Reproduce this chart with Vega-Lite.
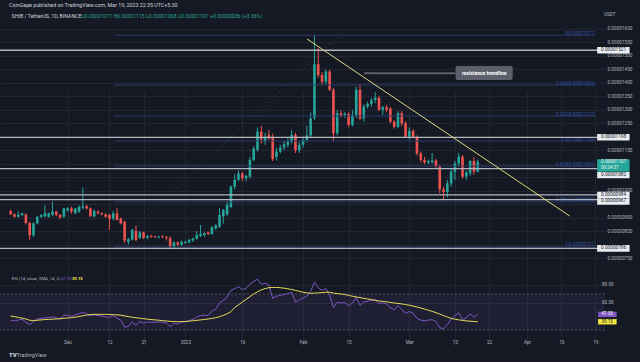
{
"$schema": "https://vega.github.io/schema/vega-lite/v6.json",
"width": 605, "height": 362,
"autosize": {"type": "none"},
"padding": {"left": 0, "top": 0, "right": 35, "bottom": 0},
"background": "#151924",
"config": {"view": {"stroke": null}, "font": "Roboto", "axis": {"labelOverlap": false, "labelFlush": false}},
"datasets": {
"bars": [
{"d":"2022-11-16","o":9.24e-6,"h":9.30e-6,"l":9.10e-6,"c":9.12e-6,"r":40.5,"s":45.5},
{"d":"2022-11-17","o":9.12e-6,"h":9.15e-6,"l":9.00e-6,"c":9.03e-6,"r":40.2,"s":44.8},
{"d":"2022-11-18","o":9.03e-6,"h":9.24e-6,"l":9.00e-6,"c":9.10e-6,"r":41,"s":44},
{"d":"2022-11-19","o":9.10e-6,"h":9.18e-6,"l":9.05e-6,"c":9.16e-6,"r":42,"s":43.2},
{"d":"2022-11-20","o":9.12e-6,"h":9.15e-6,"l":8.75e-6,"c":8.80e-6,"r":38.5,"s":42.2},
{"d":"2022-11-21","o":8.80e-6,"h":8.85e-6,"l":8.17e-6,"c":8.35e-6,"r":36,"s":40.8},
{"d":"2022-11-22","o":8.35e-6,"h":8.82e-6,"l":8.28e-6,"c":8.79e-6,"r":39.5,"s":40.5},
{"d":"2022-11-23","o":8.79e-6,"h":9.05e-6,"l":8.75e-6,"c":9.03e-6,"r":42,"s":40.8},
{"d":"2022-11-24","o":9.03e-6,"h":9.12e-6,"l":8.98e-6,"c":9.10e-6,"r":43,"s":41.2},
{"d":"2022-11-25","o":9.05e-6,"h":9.47e-6,"l":9.00e-6,"c":9.16e-6,"r":43.5,"s":41.6},
{"d":"2022-11-26","o":9.03e-6,"h":9.18e-6,"l":9.00e-6,"c":9.16e-6,"r":43.8,"s":41.8},
{"d":"2022-11-27","o":9.10e-6,"h":9.59e-6,"l":9.05e-6,"c":9.22e-6,"r":44.5,"s":42},
{"d":"2022-11-28","o":9.22e-6,"h":9.25e-6,"l":9.05e-6,"c":9.10e-6,"r":43.5,"s":42.3},
{"d":"2022-11-29","o":9.10e-6,"h":9.13e-6,"l":8.95e-6,"c":9.00e-6,"r":42.5,"s":42.5},
{"d":"2022-11-30","o":9.03e-6,"h":9.36e-6,"l":9.00e-6,"c":9.34e-6,"r":46.5,"s":43},
{"d":"2022-12-01","o":9.26e-6,"h":9.38e-6,"l":9.22e-6,"c":9.34e-6,"r":46.5,"s":43.4},
{"d":"2022-12-02","o":9.34e-6,"h":9.40e-6,"l":9.15e-6,"c":9.22e-6,"r":45,"s":43.7},
{"d":"2022-12-03","o":9.16e-6,"h":9.36e-6,"l":9.12e-6,"c":9.34e-6,"r":47,"s":44.3},
{"d":"2022-12-04","o":9.22e-6,"h":9.45e-6,"l":9.18e-6,"c":9.40e-6,"r":48,"s":45},
{"d":"2022-12-05","o":9.36e-6,"h":1.012e-5,"l":9.30e-6,"c":9.42e-6,"r":49.5,"s":45.8},
{"d":"2022-12-06","o":9.42e-6,"h":9.48e-6,"l":9.30e-6,"c":9.34e-6,"r":48,"s":46.5},
{"d":"2022-12-07","o":9.34e-6,"h":9.38e-6,"l":9.02e-6,"c":9.05e-6,"r":46,"s":47.2},
{"d":"2022-12-08","o":9.05e-6,"h":9.30e-6,"l":9.00e-6,"c":9.24e-6,"r":47,"s":47.4},
{"d":"2022-12-09","o":9.22e-6,"h":9.28e-6,"l":9.12e-6,"c":9.16e-6,"r":46,"s":47.4},
{"d":"2022-12-10","o":9.16e-6,"h":9.20e-6,"l":9.08e-6,"c":9.12e-6,"r":45.5,"s":47.4},
{"d":"2022-12-11","o":9.12e-6,"h":9.16e-6,"l":9.00e-6,"c":9.03e-6,"r":44.5,"s":47.4},
{"d":"2022-12-12","o":9.10e-6,"h":9.15e-6,"l":8.54e-6,"c":8.95e-6,"r":44,"s":47.2},
{"d":"2022-12-13","o":8.97e-6,"h":9.25e-6,"l":8.90e-6,"c":9.16e-6,"r":46,"s":47},
{"d":"2022-12-14","o":9.16e-6,"h":9.35e-6,"l":8.90e-6,"c":8.91e-6,"r":43,"s":46.8},
{"d":"2022-12-15","o":8.97e-6,"h":9.00e-6,"l":8.75e-6,"c":8.79e-6,"r":41,"s":46.5},
{"d":"2022-12-16","o":8.85e-6,"h":8.88e-6,"l":8.05e-6,"c":8.15e-6,"r":33,"s":45.6},
{"d":"2022-12-17","o":8.10e-6,"h":8.25e-6,"l":8.00e-6,"c":8.20e-6,"r":34,"s":44.9},
{"d":"2022-12-18","o":8.18e-6,"h":8.58e-6,"l":8.15e-6,"c":8.54e-6,"r":39,"s":44.2},
{"d":"2022-12-19","o":8.51e-6,"h":8.70e-6,"l":8.12e-6,"c":8.17e-6,"r":35,"s":43.6},
{"d":"2022-12-20","o":8.25e-6,"h":8.50e-6,"l":8.20e-6,"c":8.45e-6,"r":39.5,"s":43.1},
{"d":"2022-12-21","o":8.45e-6,"h":8.48e-6,"l":8.20e-6,"c":8.25e-6,"r":37.5,"s":42.6},
{"d":"2022-12-22","o":8.25e-6,"h":8.35e-6,"l":8.20e-6,"c":8.32e-6,"r":39,"s":42},
{"d":"2022-12-23","o":8.32e-6,"h":8.36e-6,"l":8.25e-6,"c":8.29e-6,"r":38.5,"s":41.6},
{"d":"2022-12-24","o":8.30e-6,"h":8.33e-6,"l":8.25e-6,"c":8.27e-6,"r":38.5,"s":41.2},
{"d":"2022-12-25","o":8.27e-6,"h":8.32e-6,"l":8.22e-6,"c":8.30e-6,"r":39,"s":40.9},
{"d":"2022-12-26","o":8.30e-6,"h":8.35e-6,"l":8.25e-6,"c":8.27e-6,"r":38.5,"s":40.4},
{"d":"2022-12-27","o":8.27e-6,"h":8.32e-6,"l":8.15e-6,"c":8.24e-6,"r":38,"s":40},
{"d":"2022-12-28","o":8.24e-6,"h":8.30e-6,"l":7.82e-6,"c":7.92e-6,"r":33.5,"s":39.6},
{"d":"2022-12-29","o":7.92e-6,"h":8.12e-6,"l":7.86e-6,"c":8.08e-6,"r":37.5,"s":39.4},
{"d":"2022-12-30","o":8.08e-6,"h":8.12e-6,"l":7.95e-6,"c":8.00e-6,"r":36.5,"s":39.3},
{"d":"2022-12-31","o":8.00e-6,"h":8.15e-6,"l":7.96e-6,"c":8.10e-6,"r":39,"s":39.3},
{"d":"2023-01-01","o":8.06e-6,"h":8.14e-6,"l":8.02e-6,"c":8.10e-6,"r":39,"s":39.5},
{"d":"2023-01-02","o":8.08e-6,"h":8.20e-6,"l":8.05e-6,"c":8.18e-6,"r":40.5,"s":39.8},
{"d":"2023-01-03","o":8.15e-6,"h":8.25e-6,"l":8.10e-6,"c":8.22e-6,"r":41.5,"s":40.2},
{"d":"2023-01-04","o":8.22e-6,"h":8.50e-6,"l":8.18e-6,"c":8.35e-6,"r":44.5,"s":40.7},
{"d":"2023-01-05","o":8.32e-6,"h":8.72e-6,"l":8.28e-6,"c":8.40e-6,"r":46,"s":41.2},
{"d":"2023-01-06","o":8.35e-6,"h":8.45e-6,"l":8.28e-6,"c":8.42e-6,"r":46.5,"s":41.7},
{"d":"2023-01-07","o":8.45e-6,"h":8.48e-6,"l":8.35e-6,"c":8.39e-6,"r":46,"s":42.2},
{"d":"2023-01-08","o":8.39e-6,"h":8.68e-6,"l":8.36e-6,"c":8.64e-6,"r":51,"s":42.9},
{"d":"2023-01-09","o":8.60e-6,"h":8.75e-6,"l":8.55e-6,"c":8.72e-6,"r":53,"s":43.6},
{"d":"2023-01-10","o":8.66e-6,"h":9.35e-6,"l":8.62e-6,"c":9.10e-6,"r":60,"s":44.8},
{"d":"2023-01-11","o":9.05e-6,"h":9.32e-6,"l":8.78e-6,"c":9.28e-6,"r":63,"s":46.3},
{"d":"2023-01-12","o":9.12e-6,"h":9.60e-6,"l":9.05e-6,"c":9.47e-6,"r":66,"s":48},
{"d":"2023-01-13","o":9.40e-6,"h":1.02e-5,"l":9.35e-6,"c":1.015e-5,"r":74,"s":50.4},
{"d":"2023-01-14","o":1.015e-5,"h":1.06e-5,"l":1.005e-5,"c":1.04e-5,"r":76,"s":55},
{"d":"2023-01-15","o":1.04e-5,"h":1.075e-5,"l":1.035e-5,"c":1.064e-5,"r":78,"s":58},
{"d":"2023-01-16","o":1.064e-5,"h":1.07e-5,"l":1.035e-5,"c":1.046e-5,"r":75,"s":61},
{"d":"2023-01-17","o":1.046e-5,"h":1.06e-5,"l":1.035e-5,"c":1.055e-5,"r":76,"s":64},
{"d":"2023-01-18","o":1.052e-5,"h":1.125e-5,"l":1.045e-5,"c":1.114e-5,"r":81,"s":67},
{"d":"2023-01-19","o":1.114e-5,"h":1.165e-5,"l":1.108e-5,"c":1.157e-5,"r":84,"s":70},
{"d":"2023-01-20","o":1.151e-5,"h":1.235e-5,"l":1.145e-5,"c":1.219e-5,"r":86.5,"s":72.5},
{"d":"2023-01-21","o":1.219e-5,"h":1.24e-5,"l":1.175e-5,"c":1.19e-5,"r":81,"s":74.5},
{"d":"2023-01-22","o":1.184e-5,"h":1.215e-5,"l":1.17e-5,"c":1.2e-5,"r":82,"s":76},
{"d":"2023-01-23","o":1.207e-5,"h":1.225e-5,"l":1.19e-5,"c":1.194e-5,"r":80,"s":77},
{"d":"2023-01-24","o":1.2e-5,"h":1.212e-5,"l":1.11e-5,"c":1.117e-5,"r":65,"s":77.2},
{"d":"2023-01-25","o":1.125e-5,"h":1.16e-5,"l":1.112e-5,"c":1.145e-5,"r":67.5,"s":77.3},
{"d":"2023-01-26","o":1.145e-5,"h":1.17e-5,"l":1.138e-5,"c":1.16e-5,"r":68.5,"s":77},
{"d":"2023-01-27","o":1.16e-5,"h":1.185e-5,"l":1.15e-5,"c":1.172e-5,"r":69.5,"s":76.5},
{"d":"2023-01-28","o":1.17e-5,"h":1.195e-5,"l":1.16e-5,"c":1.184e-5,"r":70.5,"s":75.8},
{"d":"2023-01-29","o":1.182e-5,"h":1.225e-5,"l":1.175e-5,"c":1.207e-5,"r":72,"s":75},
{"d":"2023-01-30","o":1.207e-5,"h":1.215e-5,"l":1.14e-5,"c":1.15e-5,"r":61,"s":74},
{"d":"2023-01-31","o":1.15e-5,"h":1.18e-5,"l":1.14e-5,"c":1.17e-5,"r":63.5,"s":73},
{"d":"2023-02-01","o":1.17e-5,"h":1.2e-5,"l":1.16e-5,"c":1.188e-5,"r":65.5,"s":72},
{"d":"2023-02-02","o":1.188e-5,"h":1.24e-5,"l":1.18e-5,"c":1.205e-5,"r":67.5,"s":71.2},
{"d":"2023-02-03","o":1.205e-5,"h":1.29e-5,"l":1.195e-5,"c":1.268e-5,"r":73,"s":70.8},
{"d":"2023-02-04","o":1.27e-5,"h":1.577e-5,"l":1.262e-5,"c":1.469e-5,"r":83,"s":71},
{"d":"2023-02-05","o":1.469e-5,"h":1.53e-5,"l":1.42e-5,"c":1.429e-5,"r":77,"s":71.3},
{"d":"2023-02-06","o":1.429e-5,"h":1.44e-5,"l":1.395e-5,"c":1.404e-5,"r":74,"s":71.5},
{"d":"2023-02-07","o":1.404e-5,"h":1.45e-5,"l":1.395e-5,"c":1.442e-5,"r":76,"s":72},
{"d":"2023-02-08","o":1.442e-5,"h":1.448e-5,"l":1.37e-5,"c":1.374e-5,"r":69,"s":72},
{"d":"2023-02-09","o":1.374e-5,"h":1.382e-5,"l":1.185e-5,"c":1.213e-5,"r":55,"s":71},
{"d":"2023-02-10","o":1.213e-5,"h":1.3e-5,"l":1.205e-5,"c":1.287e-5,"r":61,"s":70.5},
{"d":"2023-02-11","o":1.287e-5,"h":1.298e-5,"l":1.272e-5,"c":1.28e-5,"r":60,"s":70},
{"d":"2023-02-12","o":1.28e-5,"h":1.292e-5,"l":1.27e-5,"c":1.285e-5,"r":60.5,"s":69.5},
{"d":"2023-02-13","o":1.285e-5,"h":1.29e-5,"l":1.235e-5,"c":1.244e-5,"r":57,"s":68.5},
{"d":"2023-02-14","o":1.244e-5,"h":1.3e-5,"l":1.238e-5,"c":1.28e-5,"r":60,"s":67.5},
{"d":"2023-02-15","o":1.28e-5,"h":1.385e-5,"l":1.27e-5,"c":1.374e-5,"r":66,"s":66.8},
{"d":"2023-02-16","o":1.374e-5,"h":1.395e-5,"l":1.262e-5,"c":1.268e-5,"r":57.5,"s":66},
{"d":"2023-02-17","o":1.268e-5,"h":1.32e-5,"l":1.255e-5,"c":1.312e-5,"r":61,"s":65.2},
{"d":"2023-02-18","o":1.312e-5,"h":1.33e-5,"l":1.305e-5,"c":1.322e-5,"r":62,"s":64.5},
{"d":"2023-02-19","o":1.322e-5,"h":1.345e-5,"l":1.31e-5,"c":1.336e-5,"r":63,"s":63.8},
{"d":"2023-02-20","o":1.336e-5,"h":1.365e-5,"l":1.325e-5,"c":1.345e-5,"r":63.5,"s":63},
{"d":"2023-02-21","o":1.345e-5,"h":1.35e-5,"l":1.295e-5,"c":1.3e-5,"r":59.5,"s":62.3},
{"d":"2023-02-22","o":1.3e-5,"h":1.315e-5,"l":1.28e-5,"c":1.31e-5,"r":60,"s":61.8},
{"d":"2023-02-23","o":1.31e-5,"h":1.318e-5,"l":1.29e-5,"c":1.3e-5,"r":59,"s":61.3},
{"d":"2023-02-24","o":1.305e-5,"h":1.31e-5,"l":1.25e-5,"c":1.256e-5,"r":54.5,"s":60.7},
{"d":"2023-02-25","o":1.256e-5,"h":1.262e-5,"l":1.23e-5,"c":1.237e-5,"r":52.5,"s":60},
{"d":"2023-02-26","o":1.237e-5,"h":1.295e-5,"l":1.232e-5,"c":1.287e-5,"r":57,"s":59.5},
{"d":"2023-02-27","o":1.287e-5,"h":1.295e-5,"l":1.24e-5,"c":1.25e-5,"r":53,"s":59},
{"d":"2023-02-28","o":1.25e-5,"h":1.258e-5,"l":1.195e-5,"c":1.2e-5,"r":48.5,"s":58.3},
{"d":"2023-03-01","o":1.2e-5,"h":1.235e-5,"l":1.19e-5,"c":1.222e-5,"r":50.5,"s":57.5},
{"d":"2023-03-02","o":1.222e-5,"h":1.228e-5,"l":1.195e-5,"c":1.2e-5,"r":48.5,"s":56.6},
{"d":"2023-03-03","o":1.2e-5,"h":1.205e-5,"l":1.13e-5,"c":1.138e-5,"r":43,"s":55.6},
{"d":"2023-03-04","o":1.138e-5,"h":1.145e-5,"l":1.105e-5,"c":1.114e-5,"r":41,"s":54.4},
{"d":"2023-03-05","o":1.114e-5,"h":1.125e-5,"l":1.098e-5,"c":1.104e-5,"r":40,"s":53.2},
{"d":"2023-03-06","o":1.104e-5,"h":1.115e-5,"l":1.098e-5,"c":1.11e-5,"r":41,"s":52},
{"d":"2023-03-07","o":1.106e-5,"h":1.14e-5,"l":1.1e-5,"c":1.112e-5,"r":41.5,"s":50.7},
{"d":"2023-03-08","o":1.112e-5,"h":1.118e-5,"l":1.085e-5,"c":1.089e-5,"r":39.5,"s":49.3},
{"d":"2023-03-09","o":1.089e-5,"h":1.095e-5,"l":9.9e-6,"c":1.005e-5,"r":32.5,"s":47.7},
{"d":"2023-03-10","o":1.005e-5,"h":1.015e-5,"l":9.67e-6,"c":9.95e-6,"r":31.5,"s":46},
{"d":"2023-03-11","o":9.95e-6,"h":1.04e-5,"l":9.75e-6,"c":1.027e-5,"r":36,"s":44.4},
{"d":"2023-03-12","o":1.027e-5,"h":1.08e-5,"l":1.015e-5,"c":1.07e-5,"r":42,"s":43},
{"d":"2023-03-13","o":1.07e-5,"h":1.11e-5,"l":1.04e-5,"c":1.101e-5,"r":46,"s":42},
{"d":"2023-03-14","o":1.101e-5,"h":1.14e-5,"l":1.09e-5,"c":1.126e-5,"r":49,"s":41.3},
{"d":"2023-03-15","o":1.126e-5,"h":1.132e-5,"l":1.045e-5,"c":1.052e-5,"r":41.5,"s":40.6},
{"d":"2023-03-16","o":1.052e-5,"h":1.075e-5,"l":1.04e-5,"c":1.068e-5,"r":43.5,"s":40.1},
{"d":"2023-03-17","o":1.064e-5,"h":1.115e-5,"l":1.055e-5,"c":1.11e-5,"r":48,"s":39.8},
{"d":"2023-03-18","o":1.11e-5,"h":1.125e-5,"l":1.06e-5,"c":1.071e-5,"r":44,"s":39.4},
{"d":"2023-03-19","o":1.071e-5,"h":1.115e-5,"l":1.068e-5,"c":1.107e-5,"r":47.35,"s":39.15}
],
"levels": [{"p":1.521e-5},{"p":1.198e-5},{"p":1.082e-5},{"p":9.84e-6},{"p":9.67e-6},{"p":7.86e-6}],
"fib": [
{"p":1.577e-5,"t":"0(0.00001577)"},
{"p":1.392e-5,"t":"0.236(0.00001392)"},
{"p":1.277e-5,"t":"0.382(0.00001277)"},
{"p":1.184e-5,"t":"0.5(0.00001184)"},
{"p":1.091e-5,"t":"0.618(0.00001091)"},
{"p":9.58e-6,"t":"0.786(0.00000958)"},
{"p":7.91e-6,"t":"1(0.00000791)"}
],
"fibdiag": [
{"d":"2022-12-13T08:00:00Z","p":7.91e-6},
{"d":"2023-02-10T14:00:00Z","p":1.577e-5}
],
"tags": [
{"p":1.521e-5,"t":"0.00001521"},
{"p":1.198e-5,"t":"0.00001198"},
{"p":1.082e-5,"t":"0.00001082"},
{"p":9.84e-6,"t":"0.00000984"},
{"p":9.67e-6,"t":"0.00000967"},
{"p":7.86e-6,"t":"0.00000786"}
],
"last": [{"p":1.107e-5,"t":"0.00001107","cd":"06:24:37"}],
"trend": [
{"d":"2023-02-02T01:00:00Z","p":1.563e-5},
{"d":"2023-04-12T05:00:00Z","p":9.06e-6}
],
"rsitags": [{"v":47.35,"t":"47.35","k":"RSI"},{"v":39.15,"t":"39.15","k":"SMA"}],
"rsiticks": [{"v":80,"t":"80.00"},{"v":60,"t":"60.00"}]
},
"layer": [
{
"layer": [
{
"data": {"name": "bars"},
"mark": {"type": "rule", "strokeWidth": 1},
"encoding": {
"x": {"field": "d", "type": "temporal",
"scale": {"type": "utc", "domain": [{"year":2022,"month":11,"date":14,"hours":12,"utc":true},{"year":2023,"month":4,"date":20,"hours":5,"utc":true}]},
"axis": {"orient": "bottom", "offset": -23.5, "title": null, "domain": false, "ticks": false, "tickSize": 0, "labelPadding": 1, "tickCount": 40,
"grid": true, "gridColor": "#222633", "gridWidth": 1, "labelColor": "#b2b5be", "labelFontSize": 4.6, "labelFont": "Roboto", "labelOverlap": false,
"values": [{"year":2022,"month":12,"date":1,"utc":true},{"year":2022,"month":12,"date":12,"utc":true},{"year":2022,"month":12,"date":21,"utc":true},{"year":2023,"month":1,"date":1,"utc":true},{"year":2023,"month":1,"date":16,"utc":true},{"year":2023,"month":2,"date":1,"utc":true},{"year":2023,"month":2,"date":13,"utc":true},{"year":2023,"month":3,"date":1,"utc":true},{"year":2023,"month":3,"date":13,"utc":true},{"year":2023,"month":3,"date":22,"utc":true},{"year":2023,"month":4,"date":1,"utc":true},{"year":2023,"month":4,"date":10,"utc":true},{"year":2023,"month":4,"date":19,"utc":true}],
"labelExpr": "utcdate(datum.value) == 1 ? (utcmonth(datum.value) == 0 ? utcFormat(datum.value, '%Y') : utcFormat(datum.value, '%b')) : utcFormat(datum.value, '%-d')"}},
"y": {"field": "l", "type": "quantitative",
"scale": {"domain": [7e-6, 1.65e-5], "range": [271.5, 15.5], "zero": false, "nice": false},
"axis": {"orient": "right", "title": null, "domain": false, "ticks": false, "tickSize": 0, "labelPadding": 2, "tickCount": 40,
"grid": true, "gridColor": "#222633", "labelColor": "#b2b5be", "labelFontSize": 4.7, "labelFont": "Roboto", "labelOverlap": false, "labelBound": false,
"values": [7.5e-6, 8e-6, 8.5e-6, 9e-6, 9.5e-6, 1e-5, 1.05e-5, 1.1e-5, 1.15e-5, 1.2e-5, 1.25e-5, 1.3e-5, 1.35e-5, 1.4e-5, 1.45e-5, 1.5e-5, 1.55e-5, 1.6e-5],
"labelExpr": "indexof([800, 950, 1050, 1100, 1200], round(datum.value * 1e8)) >= 0 ? '' : format(datum.value, '.8f')"}},
"y2": {"field": "h"},
"color": {"condition": {"test": "datum.c >= datum.o", "value": "#26a69a"}, "value": "#ef5350"}
}
},
{
"data": {"name": "bars"},
"mark": {"type": "bar", "size": 2.6},
"encoding": {
"x": {"field": "d", "type": "temporal", "axis": {"title": null}},
"y": {"field": "o", "type": "quantitative", "axis": {"title": null}},
"y2": {"field": "c"},
"color": {"condition": {"test": "datum.c >= datum.o", "value": "#26a69a"}, "value": "#ef5350"}
}
},
{
"data": {"name": "fibdiag"},
"mark": {"type": "line", "color": "#4a5272", "strokeWidth": 0.8, "strokeDash": [2, 3], "opacity": 0.55},
"encoding": {
"x": {"field": "d", "type": "temporal", "axis": {"title": null}},
"y": {"field": "p", "type": "quantitative", "axis": {"title": null}}
}
},
{
"data": {"name": "fib"},
"mark": {"type": "rule", "color": "#2b3a6c", "strokeWidth": 1},
"encoding": {
"x": {"datum": {"year":2022,"month":12,"date":13,"hours":8,"utc":true}, "type": "temporal", "axis": {"title": null}},
"x2": {"datum": {"year":2023,"month":4,"date":18,"hours":22,"utc":true}},
"y": {"field": "p", "type": "quantitative", "axis": {"title": null}}
}
},
{
"data": {"name": "fib"},
"mark": {"type": "text", "align": "right", "baseline": "bottom", "dy": 0.5, "fontSize": 4.6, "color": "#34509e"},
"encoding": {
"x": {"datum": {"year":2023,"month":4,"date":18,"hours":22,"utc":true}, "type": "temporal", "axis": {"title": null}},
"y": {"field": "p", "type": "quantitative", "axis": {"title": null}},
"text": {"field": "t"}
}
},
{
"data": {"name": "levels"},
"mark": {"type": "rule", "color": "#b4b7c0", "strokeWidth": 1.3},
"encoding": {
"y": {"field": "p", "type": "quantitative", "axis": {"title": null}}
}
},
{
"data": {"name": "trend"},
"mark": {"type": "line", "color": "#e2d97a", "strokeWidth": 1},
"encoding": {
"x": {"field": "d", "type": "temporal", "axis": {"title": null}},
"y": {"field": "p", "type": "quantitative", "axis": {"title": null}}
}
},
{
"data": {"values": [{}]},
"mark": {"type": "rule", "color": "#5d606b", "strokeWidth": 2},
"encoding": {
"x": {"datum": {"year":2023,"month":2,"date":17,"hours":1,"utc":true}, "type": "temporal", "axis": {"title": null}},
"x2": {"datum": {"year":2023,"month":3,"date":13,"hours":4,"utc":true}},
"y": {"datum": 1.436e-5, "type": "quantitative", "axis": {"title": null}}
}
},
{
"data": {"values": [{}]},
"mark": {"type": "rect", "color": "#5d606b", "cornerRadius": 2},
"encoding": {
"x": {"datum": {"year":2023,"month":3,"date":13,"hours":4,"utc":true}, "type": "temporal", "axis": {"title": null}},
"x2": {"datum": {"year":2023,"month":3,"date":28,"hours":5,"utc":true}},
"y": {"datum": 1.4627e-5, "type": "quantitative", "axis": {"title": null}},
"y2": {"datum": 1.4107e-5}
}
},
{
"data": {"values": [{}]},
"mark": {"type": "text", "align": "center", "baseline": "middle", "fontSize": 5, "fontWeight": "bold", "color": "#ffffff"},
"encoding": {
"x": {"datum": {"year":2023,"month":3,"date":20,"hours":17,"utc":true}, "type": "temporal", "axis": {"title": null}},
"y": {"datum": 1.437e-5, "type": "quantitative", "axis": {"title": null}},
"text": {"value": "resistance trendline"}
}
},
{
"data": {"name": "tags"},
"transform": [{"filter": "datum.t != '0.00001082' && datum.t != '0.00000967'"}],
"mark": {"type": "rect", "color": "#e9ebf0", "yOffset": -3.3, "y2Offset": 3.3},
"encoding": {
"x": {"datum": {"year":2023,"month":4,"date":19,"hours":11,"utc":true}, "type": "temporal", "axis": {"title": null}},
"x2": {"datum": {"year":2023,"month":4,"date":28,"utc":true}},
"y": {"field": "p", "type": "quantitative", "axis": {"title": null}},
"y2": {"field": "p"}
}
},
{
"data": {"name": "tags"},
"transform": [{"filter": "datum.t != '0.00001082' && datum.t != '0.00000967'"}],
"mark": {"type": "text", "align": "left", "baseline": "middle", "fontSize": 4.7, "color": "#131722"},
"encoding": {
"x": {"datum": {"year":2023,"month":4,"date":20,"hours":12,"utc":true}, "type": "temporal", "axis": {"title": null}},
"y": {"field": "p", "type": "quantitative", "axis": {"title": null}},
"text": {"field": "t"}
}
},
{
"data": {"name": "tags"},
"transform": [{"filter": "datum.t == '0.00000967'"}],
"mark": {"type": "rect", "color": "#e9ebf0", "yOffset": -1.4, "y2Offset": 5.2},
"encoding": {
"x": {"datum": {"year":2023,"month":4,"date":19,"hours":11,"utc":true}, "type": "temporal", "axis": {"title": null}},
"x2": {"datum": {"year":2023,"month":4,"date":28,"utc":true}},
"y": {"field": "p", "type": "quantitative", "axis": {"title": null}},
"y2": {"field": "p"}
}
},
{
"data": {"name": "tags"},
"transform": [{"filter": "datum.t == '0.00000967'"}],
"mark": {"type": "text", "align": "left", "baseline": "middle", "dy": 1.9, "fontSize": 4.7, "color": "#131722"},
"encoding": {
"x": {"datum": {"year":2023,"month":4,"date":20,"hours":12,"utc":true}, "type": "temporal", "axis": {"title": null}},
"y": {"field": "p", "type": "quantitative", "axis": {"title": null}},
"text": {"field": "t"}
}
},
{
"data": {"name": "tags"},
"transform": [{"filter": "datum.t == '0.00001082'"}],
"mark": {"type": "rect", "color": "#e9ebf0", "yOffset": 3.4, "y2Offset": 9.6},
"encoding": {
"x": {"datum": {"year":2023,"month":4,"date":19,"hours":11,"utc":true}, "type": "temporal", "axis": {"title": null}},
"x2": {"datum": {"year":2023,"month":4,"date":28,"utc":true}},
"y": {"field": "p", "type": "quantitative", "axis": {"title": null}},
"y2": {"field": "p"}
}
},
{
"data": {"name": "tags"},
"transform": [{"filter": "datum.t == '0.00001082'"}],
"mark": {"type": "text", "align": "left", "baseline": "middle", "dy": 6.5, "fontSize": 4.7, "color": "#131722"},
"encoding": {
"x": {"datum": {"year":2023,"month":4,"date":20,"hours":12,"utc":true}, "type": "temporal", "axis": {"title": null}},
"y": {"field": "p", "type": "quantitative", "axis": {"title": null}},
"text": {"field": "t"}
}
},
{
"data": {"name": "last"},
"mark": {"type": "rect", "color": "#26a69a", "yOffset": -2.5, "y2Offset": 10},
"encoding": {
"x": {"datum": {"year":2023,"month":4,"date":19,"hours":11,"utc":true}, "type": "temporal", "axis": {"title": null}},
"x2": {"datum": {"year":2023,"month":4,"date":28,"utc":true}},
"y": {"field": "p", "type": "quantitative", "axis": {"title": null}},
"y2": {"field": "p"}
}
},
{
"data": {"name": "last"},
"mark": {"type": "text", "align": "left", "baseline": "middle", "dy": 0.6, "fontSize": 4.7, "color": "#ffffff"},
"encoding": {
"x": {"datum": {"year":2023,"month":4,"date":20,"hours":12,"utc":true}, "type": "temporal", "axis": {"title": null}},
"y": {"field": "p", "type": "quantitative", "axis": {"title": null}},
"text": {"field": "t"}
}
},
{
"data": {"name": "last"},
"mark": {"type": "text", "align": "left", "baseline": "middle", "dy": 6.2, "fontSize": 4.5, "color": "#e6f5f3"},
"encoding": {
"x": {"datum": {"year":2023,"month":4,"date":20,"hours":12,"utc":true}, "type": "temporal", "axis": {"title": null}},
"y": {"field": "p", "type": "quantitative", "axis": {"title": null}},
"text": {"field": "cd"}
}
},
{
"data": {"values": [{}]},
"mark": {"type": "text", "align": "left", "baseline": "middle", "fontSize": 5.3, "color": "#d1d4dc"},
"encoding": {
"x": {"datum": {"year":2022,"month":11,"date":15,"hours":13,"utc":true}, "type": "temporal", "axis": {"title": null}},
"y": {"datum": 1.689e-5, "type": "quantitative", "axis": {"title": null}},
"text": {"value": "CoinGape published on TradingView.com, Mar 19, 2023 22:35 UTC+5:30"}
}
},
{
"data": {"values": [{}]},
"mark": {"type": "text", "align": "left", "baseline": "middle", "fontSize": 5.2, "color": "#d1d4dc"},
"encoding": {
"x": {"datum": {"year":2022,"month":11,"date":16,"hours":7,"utc":true}, "type": "temporal", "axis": {"title": null}},
"y": {"datum": 1.648e-5, "type": "quantitative", "axis": {"title": null}},
"text": {"value": "SHIB / TetherUS, 1D, BINANCE"}
}
},
{
"data": {"values": [{}]},
"mark": {"type": "text", "align": "left", "baseline": "middle", "fontSize": 5.2, "color": "#26a69a"},
"encoding": {
"x": {"datum": {"year":2022,"month":12,"date":4,"hours":12,"utc":true}, "type": "temporal", "axis": {"title": null}},
"y": {"datum": 1.648e-5, "type": "quantitative", "axis": {"title": null}},
"text": {"value": "O0.00001071 H0.00001115 L0.00001068 C0.00001107 +0.00000036 (+3.36%)"}
}
},
{
"data": {"values": [{}]},
"mark": {"type": "text", "align": "left", "baseline": "middle", "fontSize": 4.7, "color": "#b2b5be"},
"encoding": {
"x": {"datum": {"year":2023,"month":4,"date":21,"hours":6,"utc":true}, "type": "temporal", "axis": {"title": null}},
"y": {"datum": 1.652e-5, "type": "quantitative", "axis": {"title": null}},
"text": {"value": "USDT"}
}
}
]
},
{
"layer": [
{
"data": {"values": [{"lo": 30, "hi": 70}]},
"mark": {"type": "rect", "color": "#7e57c2", "opacity": 0.1},
"encoding": {
"y": {"field": "lo", "type": "quantitative", "scale": {"domain": [20, 90], "range": [339, 276], "zero": false, "nice": false},
"axis": {"orient": "right", "title": null, "domain": false, "ticks": false, "tickSize": 0, "labels": false, "grid": true, "gridColor": "#222633", "tickCount": 40, "values": [60, 80]}},
"y2": {"field": "hi"}
}
},
{
"data": {"values": [{"v": 70}, {"v": 30}]},
"mark": {"type": "rule", "color": "#787b86", "strokeDash": [2, 2], "strokeWidth": 0.8, "opacity": 0.7},
"encoding": {
"y": {"field": "v", "type": "quantitative", "axis": {"title": null}}
}
},
{
"data": {"name": "bars"},
"mark": {"type": "line", "color": "#7e57c2", "strokeWidth": 1},
"encoding": {
"x": {"field": "d", "type": "temporal", "axis": {"title": null}},
"y": {"field": "r", "type": "quantitative", "axis": {"title": null}}
}
},
{
"data": {"name": "bars"},
"mark": {"type": "line", "color": "#e8dc5a", "strokeWidth": 1},
"encoding": {
"x": {"field": "d", "type": "temporal", "axis": {"title": null}},
"y": {"field": "s", "type": "quantitative", "axis": {"title": null}}
}
},
{
"data": {"name": "rsiticks"},
"mark": {"type": "text", "align": "left", "baseline": "middle", "fontSize": 4.7, "color": "#b2b5be"},
"encoding": {
"x": {"datum": {"year":2023,"month":4,"date":20,"hours":17,"minutes":26,"utc":true}, "type": "temporal", "axis": {"title": null}},
"y": {"field": "v", "type": "quantitative", "axis": {"title": null}},
"text": {"field": "t"}
}
},
{
"data": {"name": "rsitags"},
"mark": {"type": "rect", "yOffset": -2.7, "y2Offset": 2.7},
"encoding": {
"x": {"datum": {"year":2023,"month":4,"date":19,"hours":17,"utc":true}, "type": "temporal", "axis": {"title": null}},
"x2": {"datum": {"year":2023,"month":4,"date":24,"hours":14,"utc":true}},
"y": {"field": "v", "type": "quantitative", "axis": {"title": null}},
"y2": {"field": "v"},
"color": {"condition": {"test": "datum.k == 'RSI'", "value": "#7e57c2"}, "value": "#f5e642"}
}
},
{
"data": {"name": "rsitags"},
"mark": {"type": "text", "align": "center", "baseline": "middle", "fontSize": 4.5},
"encoding": {
"x": {"datum": {"year":2023,"month":4,"date":22,"hours":2,"utc":true}, "type": "temporal", "axis": {"title": null}},
"y": {"field": "v", "type": "quantitative", "axis": {"title": null}},
"text": {"field": "t"},
"color": {"condition": {"test": "datum.k == 'RSI'", "value": "#ffffff"}, "value": "#131722"}
}
},
{
"data": {"values": [{}]},
"mark": {"type": "text", "align": "left", "baseline": "middle", "fontSize": 4.2, "color": "#b2b5be"},
"encoding": {
"x": {"datum": {"year":2022,"month":11,"date":16,"hours":7,"utc":true}, "type": "temporal", "axis": {"title": null}},
"y": {"datum": 86.7, "type": "quantitative", "axis": {"title": null}},
"text": {"value": "RSI (14, close, SMA, 14, 2)"}
}
},
{
"data": {"values": [{}]},
"mark": {"type": "text", "align": "left", "baseline": "middle", "fontSize": 4.2, "color": "#7e57c2"},
"encoding": {
"x": {"datum": {"year":2022,"month":11,"date":29,"hours":6,"utc":true}, "type": "temporal", "axis": {"title": null}},
"y": {"datum": 86.7, "type": "quantitative", "axis": {"title": null}},
"text": {"value": "47.35"}
}
},
{
"data": {"values": [{}]},
"mark": {"type": "text", "align": "left", "baseline": "middle", "fontSize": 4.2, "fontWeight": "bold", "color": "#f5e642"},
"encoding": {
"x": {"datum": {"year":2022,"month":12,"date":2,"hours":3,"utc":true}, "type": "temporal", "axis": {"title": null}},
"y": {"datum": 86.7, "type": "quantitative", "axis": {"title": null}},
"text": {"value": "39.15"}
}
},
{
"data": {"values": [{}]},
"mark": {"type": "text", "align": "left", "baseline": "middle", "fontSize": 6, "fontWeight": 900, "color": "#d1d4dc"},
"encoding": {
"x": {"datum": {"year":2022,"month":11,"date":15,"hours":13,"utc":true}, "type": "temporal", "axis": {"title": null}},
"y": {"datum": 2.2, "type": "quantitative", "axis": {"title": null}},
"text": {"value": "TV"}
}
},
{
"data": {"values": [{}]},
"mark": {"type": "text", "align": "left", "baseline": "middle", "fontSize": 5.5, "color": "#b2b5be"},
"encoding": {
"x": {"datum": {"year":2022,"month":11,"date":17,"hours":12,"utc":true}, "type": "temporal", "axis": {"title": null}},
"y": {"datum": 2.2, "type": "quantitative", "axis": {"title": null}},
"text": {"value": "TradingView"}
}
}
]
}
],
"resolve": {"scale": {"y": "independent"}}
}
